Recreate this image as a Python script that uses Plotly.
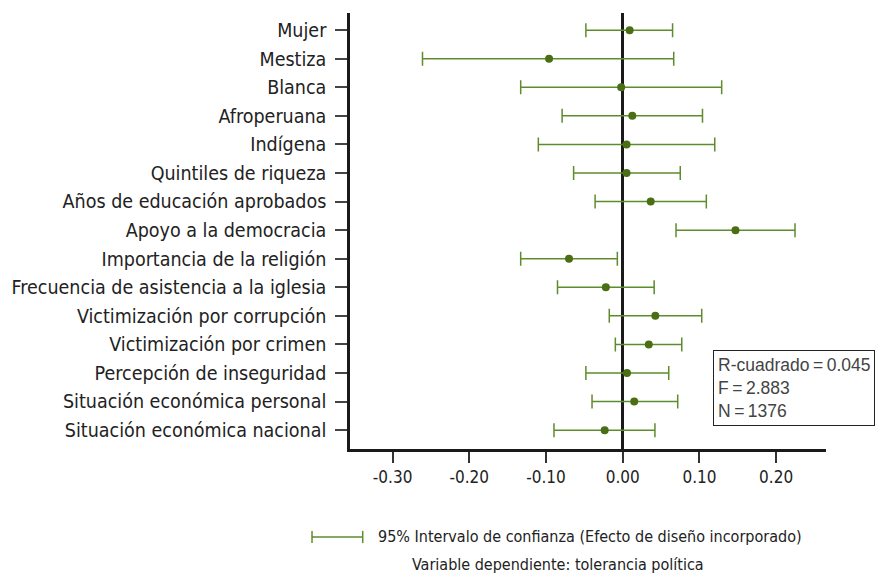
import plotly.graph_objects as go

# Coeficientes estandarizados con IC 95%
variables = [
    "Mujer", "Mestiza", "Blanca", "Afroperuana", "Indígena",
    "Quintiles de riqueza", "Años de educación aprobados",
    "Apoyo a la democracia", "Importancia de la religión",
    "Frecuencia de asistencia a la iglesia", "Victimización por corrupción",
    "Victimización por crimen", "Percepción de inseguridad",
    "Situación económica personal", "Situación económica nacional",
]
coef = [0.009, -0.096, -0.002, 0.0125, 0.005, 0.005, 0.0365, 0.147,
        -0.070, -0.022, 0.0425, 0.034, 0.0056, 0.015, -0.0235]
ic_bajo = [-0.048, -0.261, -0.133, -0.079, -0.110, -0.064, -0.036, 0.0695,
           -0.133, -0.085, -0.0175, -0.0096, -0.048, -0.040, -0.0896]
ic_alto = [0.065, 0.0665, 0.129, 0.104, 0.120, 0.075, 0.109, 0.2246,
           -0.007, 0.041, 0.103, 0.077, 0.060, 0.0717, 0.042]

x_ticks = [-0.30, -0.20, -0.10, 0.00, 0.10, 0.20]
x_labels = ["-0.30", "-0.20", "-0.10", "0.00", "0.10", "0.20"]

stats = "R-cuadrado\u2009=\u20090.045<br>F\u2009=\u20092.883<br>N\u2009=\u20091376"

verde_linea = "#5e8c2c"
verde_punto = "#4b6e14"
fuente = "DejaVu Sans Condensed, Liberation Sans Narrow, Liberation Sans, sans-serif"

err_plus = [a - c for a, c in zip(ic_alto, coef)]
err_minus = [c - b for b, c in zip(ic_bajo, coef)]

fig = go.Figure()
fig.add_trace(go.Scatter(
    x=coef, y=variables, mode="markers",
    marker=dict(color=verde_punto, size=8),
    error_x=dict(type="data", symmetric=False, array=err_plus,
                 arrayminus=err_minus, color=verde_linea,
                 thickness=1.5, width=7),
    showlegend=False,
))

fig.update_xaxes(
    range=[-0.3555, 0.265], tickvals=x_ticks, ticktext=x_labels,
    showgrid=False, zeroline=True, zerolinecolor="#1a1a1a", zerolinewidth=2.5,
    showline=True, linecolor="#1a1a1a", linewidth=2.5,
    ticks="outside", ticklen=11, tickwidth=1.5, tickcolor="#333",
    tickfont=dict(size=17, color="#222", family=fuente),
)
fig.update_yaxes(
    type="category", categoryorder="array",
    categoryarray=list(reversed(variables)),
    range=[-0.66, 14.6], showgrid=False,
    showline=True, linecolor="#1a1a1a", linewidth=2.5,
    ticks="outside", ticklen=12, tickwidth=1.5, tickcolor="#444",
    ticklabelstandoff=5,
    tickfont=dict(size=19.5, color="#222", family=fuente),
)

# Cuadro de estadísticos
fig.add_annotation(
    xref="paper", yref="paper", x=0.7626, y=(449 - 350) / 436,
    xanchor="left", yanchor="top", text=stats, showarrow=False,
    align="left", bordercolor="#222", borderwidth=1, borderpad=4,
    bgcolor="white", font=dict(size=17.5, color="#444", family="Liberation Sans, sans-serif"),
)

# Leyenda del intervalo
ly = -0.2018
fig.add_shape(type="line", xref="paper", yref="paper", x0=-0.0798, x1=0.0267,
              y0=ly, y1=ly, line=dict(color=verde_linea, width=1.5))
for xc in [-0.0798, 0.0267]:
    fig.add_shape(type="line", xref="paper", yref="paper", x0=xc, x1=xc,
                  y0=ly - 0.014, y1=ly + 0.014, line=dict(color=verde_linea, width=1.5))
fig.add_annotation(
    xref="paper", yref="paper", x=0.0546, y=ly, xanchor="left", yanchor="middle",
    text="95% Intervalo de confianza (Efecto de diseño incorporado)",
    showarrow=False, font=dict(size=16, color="#222", family=fuente),
)
fig.add_annotation(
    xref="paper", yref="paper", x=(558 - 350) / 476, y=-0.264,
    xanchor="center", yanchor="middle",
    text="Variable dependiente: tolerancia política",
    showarrow=False, font=dict(size=16, color="#222", family=fuente),
)

fig.update_layout(
    width=882, height=579,
    margin=dict(l=350, r=56, t=13, b=130),
    plot_bgcolor="white", paper_bgcolor="white",
    font=dict(family=fuente),
)

fig.write_html("out.html", config={"displayModeBar": False},
               post_script="document.body.style.margin='0';")
